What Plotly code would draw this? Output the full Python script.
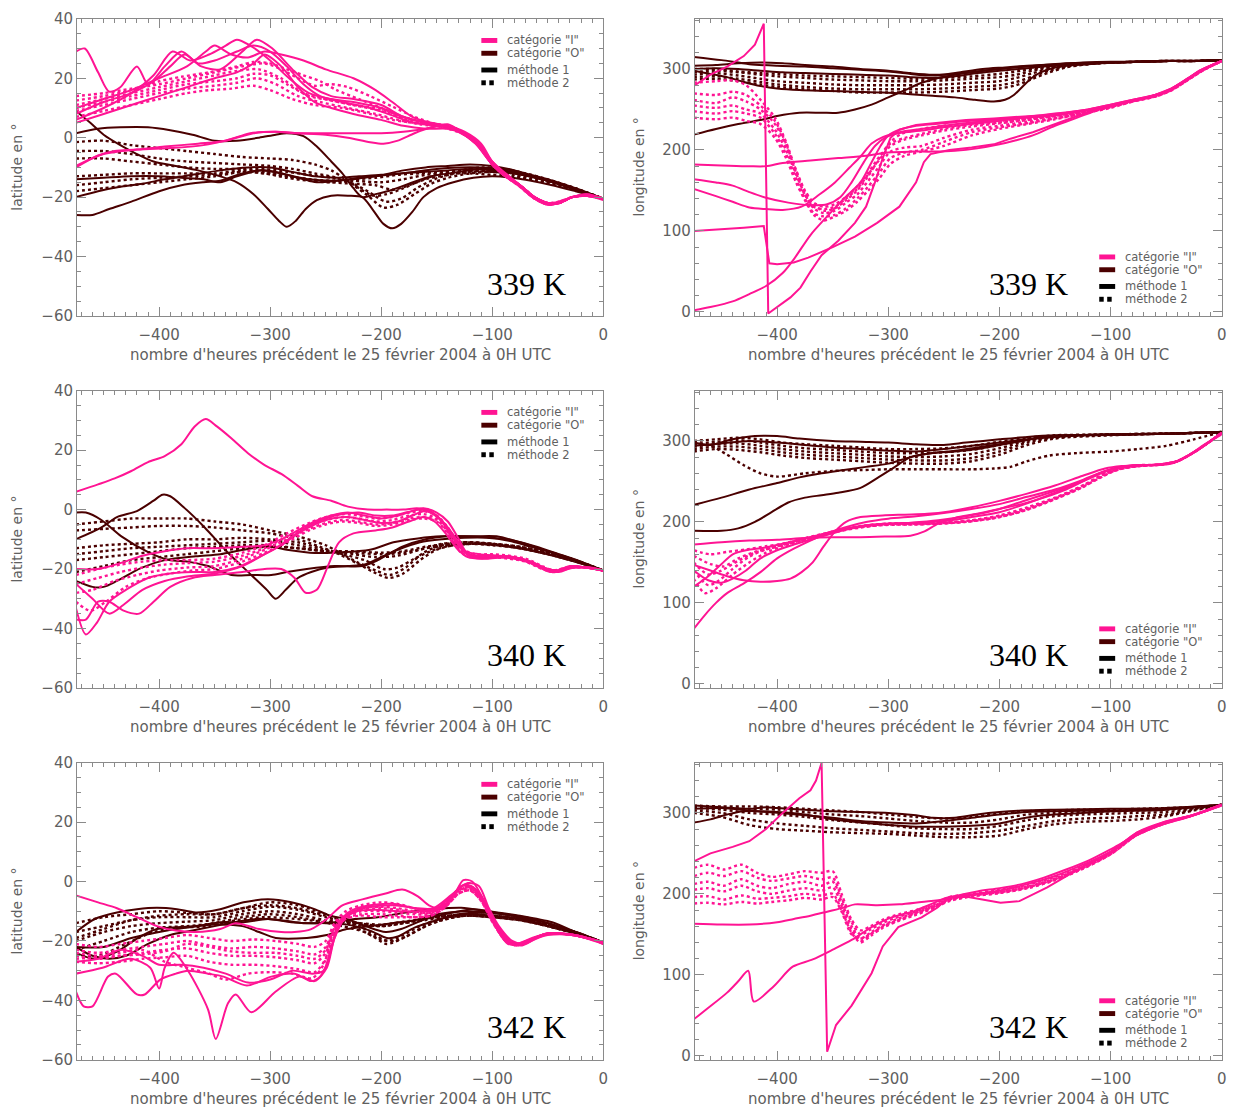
import plotly.graph_objects as go

# ---------------- data ----------------
HOURS_TICKS = [-400, -300, -200, -100, 0]
LAT_TICKS = [-60, -40, -20, 0, 20, 40]
LON_TICKS = [0, 100, 200, 300]
TEMPS = ["339 K", "340 K", "342 K"]
LEGEND_TEXT = ['catégorie "I"', 'catégorie "O"', "méthode 1", "méthode 2"]
X_TITLE = "nombre d'heures précédent le 25 février 2004 à 0H UTC"

# ===== 339 K latitude =====
lat339_I_m1 = [
    [(-475,29),(-467,30),(-455,22),(-445,15.5),(-435,17),(-420,24),(-410,18),(-395,24),(-380,29),(-365,25),(-350,26),(-330,29),(-315,31),(-300,29),(-285,24),(-270,18),(-255,14),(-235,12),(-210,10),(-190,7.5),(-170,5),(-150,4),(-135,3),(-125,1),(-112,-3),(-100,-9),(-88,-13),(-75,-16),(-62,-20),(-50,-22.5),(-40,-22),(-28,-20),(-15,-19.5),(0,-20.5)],
    [(-475,5),(-450,8),(-425,11),(-400,14),(-375,17),(-350,20),(-330,22),(-315,25),(-305,28),(-290,24),(-275,17),(-260,12),(-245,10),(-225,8),(-200,6),(-180,4),(-160,3),(-140,3),(-125,1.5),(-112,-2),(-100,-8),(-88,-12.5),(-75,-16),(-62,-20),(-50,-22),(-40,-21.5),(-28,-20),(-15,-19.5),(0,-20.5)],
    [(-475,8),(-450,12),(-425,15),(-405,19),(-390,24),(-377,28),(-362,24),(-345,23),(-325,29),(-312,33),(-298,30),(-280,23),(-262,17),(-245,14),(-225,13),(-200,11),(-180,7),(-160,5),(-140,3.5),(-125,1.5),(-110,-3),(-100,-8.5),(-88,-13),(-75,-16.5),(-62,-20.5),(-50,-22.5),(-40,-22),(-28,-20),(-15,-19.5),(0,-21)],
    [(-475,6),(-450,10),(-425,15),(-405,21),(-388,29),(-372,26),(-355,28),(-340,31),(-330,33),(-318,31),(-300,26),(-283,20),(-265,15),(-245,13),(-225,12),(-200,10),(-180,7),(-160,5),(-140,3.5),(-125,1),(-112,-3),(-100,-9),(-88,-13),(-75,-16),(-62,-20),(-50,-22),(-40,-22),(-28,-20),(-15,-19),(0,-20.5)],
    [(-475,10),(-450,13),(-425,16),(-400,20),(-375,24),(-358,29),(-350,31),(-335,28),(-320,27),(-305,29),(-290,28),(-270,26),(-250,23),(-225,20),(-205,16),(-190,12),(-172,7),(-155,5),(-140,4),(-125,2),(-110,-2),(-100,-8),(-88,-12),(-75,-16),(-62,-20),(-50,-22),(-40,-22),(-28,-20),(-15,-19),(0,-20.5)],
    [(-475,-10),(-455,-6),(-440,-4.5),(-420,-4),(-395,-3),(-365,-2),(-340,-1),(-318,1.5),(-295,2),(-275,1.5),(-250,1.5),(-225,1.5),(-200,1.5),(-180,2),(-160,3),(-145,4),(-130,2),(-115,-2),(-100,-9),(-88,-13),(-75,-16.5),(-62,-20.5),(-50,-22.5),(-40,-22),(-28,-20),(-15,-19.5),(0,-20.5)],
    [(-475,-9.5),(-450,-5.5),(-420,-4),(-390,-3.5),(-360,-2.5),(-335,-0.5),(-315,1.5),(-295,2),(-275,1.5),(-250,1),(-230,0),(-210,-1.5),(-198,-2),(-185,-1),(-170,1.5),(-155,3.5),(-140,4.5),(-128,2),(-115,-2),(-100,-9),(-88,-13),(-75,-16),(-62,-20),(-50,-22),(-40,-22),(-28,-20),(-15,-19.5),(0,-20.5)],
]
lat339_I_m2 = [
    [(-475,14),(-450,15),(-425,16.5),(-400,18),(-375,20),(-350,22),(-325,24),(-305,25),(-290,23),(-275,20),(-260,17.5),(-245,18),(-230,17),(-210,14),(-190,10.5),(-170,7),(-150,4.5),(-135,3.5),(-125,1.5),(-110,-3),(-100,-8.5),(-88,-12.5),(-75,-16),(-62,-20),(-50,-22),(-40,-22),(-28,-20),(-15,-19.5),(0,-20.5)],
    [(-475,11),(-450,13),(-425,15),(-400,17),(-375,19),(-350,21),(-330,22.5),(-310,23),(-290,20),(-270,15),(-250,13),(-225,11),(-200,9),(-180,6.5),(-160,5),(-140,3.5),(-125,1),(-110,-3.5),(-100,-9),(-88,-13),(-75,-16.5),(-62,-20.5),(-50,-22.5),(-40,-22),(-28,-20),(-15,-19.5),(0,-20.5)],
    [(-475,9),(-450,11),(-425,13),(-400,15),(-375,16.5),(-350,17.5),(-330,18.5),(-312,20),(-295,18),(-275,14),(-255,12),(-230,10),(-205,8),(-185,6),(-165,4.5),(-145,3.5),(-125,1),(-110,-3),(-100,-9),(-88,-13),(-75,-16),(-62,-20),(-50,-22),(-40,-22),(-28,-20),(-15,-19.5),(0,-20.5)],
    [(-475,7),(-450,9),(-425,11),(-400,13),(-375,15),(-355,16),(-335,16.5),(-315,17.5),(-300,16),(-280,13),(-260,11),(-235,10),(-210,8),(-190,6),(-170,5),(-150,4),(-130,2),(-115,-1.5),(-100,-8.5),(-88,-12.5),(-75,-16),(-62,-20),(-50,-22),(-40,-21.5),(-28,-20),(-15,-19.5),(0,-20.5)],
    [(-475,12.5),(-450,14),(-425,16),(-400,19),(-380,20.5),(-355,22),(-330,24),(-315,25.5),(-300,25),(-285,23),(-270,21),(-255,19),(-240,16),(-220,13),(-200,10),(-180,7),(-160,5),(-140,4),(-125,1.5),(-110,-3),(-100,-9),(-88,-13),(-75,-16),(-62,-20),(-50,-22),(-40,-22),(-28,-20),(-15,-19.5),(0,-20.5)],
    [(-475,10),(-450,12),(-425,14),(-400,16),(-375,18),(-350,19),(-330,20),(-315,21.5),(-300,21),(-285,18),(-265,14),(-245,12.5),(-225,11),(-200,9.5),(-180,7),(-160,5),(-140,3.5),(-125,1),(-110,-3),(-100,-8.5),(-88,-12.5),(-75,-16),(-62,-20),(-50,-22),(-40,-22),(-28,-20),(-15,-19.5),(0,-20.5)],
]
lat339_O_m1 = [
    [(-475,9),(-462,5),(-450,1),(-435,-2.5),(-420,-5.5),(-405,-8),(-385,-9.5),(-365,-11),(-345,-13),(-330,-15),(-315,-19),(-302,-24),(-292,-28),(-285,-30),(-277,-28),(-268,-24),(-258,-21),(-245,-19.5),(-230,-19.5),(-217,-20),(-208,-24),(-198,-29),(-190,-30.5),(-182,-29),(-172,-25),(-162,-20),(-150,-17),(-135,-15),(-117,-13.5),(-100,-13),(-82,-13.5),(-65,-14.5),(-46,-16),(-25,-18),(0,-20.5)],
    [(-475,1.5),(-455,3),(-435,3.5),(-410,3.5),(-390,2.5),(-370,1),(-350,-1),(-330,-1),(-310,0),(-295,1),(-285,1.5),(-270,0.5),(-258,-3),(-245,-8),(-235,-12),(-225,-17),(-217,-20),(-205,-19),(-190,-17.5),(-175,-15.5),(-155,-13),(-130,-11.5),(-110,-10.5),(-90,-11),(-70,-12.5),(-50,-14.5),(-25,-17.5),(0,-20.5)],
    [(-475,-20),(-455,-18),(-435,-16.5),(-415,-15.5),(-395,-14),(-370,-12.5),(-345,-11),(-320,-10),(-300,-10),(-280,-11.5),(-260,-13),(-240,-13.5),(-220,-13),(-200,-12.5),(-180,-11),(-160,-10),(-140,-9.5),(-120,-9),(-100,-9.5),(-80,-11),(-60,-13.5),(-40,-15.5),(-20,-18),(0,-20.5)],
    [(-475,-26),(-460,-26),(-445,-24),(-425,-21.5),(-400,-18),(-380,-16),(-360,-15),(-345,-14.5),(-325,-12),(-305,-11),(-285,-12.5),(-265,-14),(-245,-14.5),(-225,-14),(-205,-13),(-180,-12),(-160,-11.5),(-140,-11),(-120,-10.5),(-100,-11),(-80,-12),(-60,-13.5),(-40,-15.5),(-20,-18),(0,-20.5)],
    [(-475,-14),(-450,-13.5),(-425,-13),(-400,-13),(-380,-13.5),(-360,-14),(-345,-15),(-330,-13),(-310,-11),(-295,-11.5),(-275,-13.5),(-258,-15),(-240,-14.5),(-220,-13.5),(-195,-12.5),(-170,-11.5),(-150,-10.5),(-130,-10),(-110,-10),(-90,-10.5),(-70,-12),(-50,-14),(-25,-17),(0,-20.5)],
]
lat339_O_m2 = [
    [(-475,-1.5),(-450,-1),(-425,-2.5),(-400,-3.5),(-375,-4.5),(-350,-5.5),(-325,-6.5),(-300,-7),(-280,-7.5),(-260,-9),(-245,-11),(-232,-14),(-220,-17),(-207,-19.5),(-195,-19),(-180,-17),(-165,-14.5),(-150,-12.5),(-130,-11),(-110,-10),(-90,-10.5),(-70,-12),(-50,-14),(-25,-17),(0,-20.5)],
    [(-475,-4.5),(-450,-4.5),(-425,-5.5),(-400,-7),(-375,-8),(-350,-8.5),(-325,-9),(-300,-9.5),(-280,-10.5),(-260,-12),(-240,-13.5),(-225,-15.5),(-210,-18.5),(-196,-21.5),(-182,-20.5),(-168,-17),(-152,-14),(-135,-12),(-115,-11),(-95,-11),(-75,-12),(-55,-14),(-30,-16.5),(0,-20.5)],
    [(-475,-7),(-450,-7),(-425,-8),(-400,-9),(-375,-10),(-350,-10.5),(-325,-10.5),(-305,-10.5),(-285,-11.5),(-265,-12.5),(-245,-13.5),(-228,-15.5),(-212,-19.5),(-198,-23.5),(-185,-22.5),(-170,-19),(-155,-15.5),(-140,-13.5),(-120,-12),(-100,-11.5),(-80,-12),(-60,-13.5),(-35,-16),(0,-20.5)],
    [(-475,-13),(-450,-12.5),(-425,-12),(-400,-12),(-375,-12),(-350,-12),(-325,-11),(-305,-11.5),(-285,-13),(-265,-14),(-245,-15),(-225,-15.5),(-205,-16),(-190,-17.5),(-175,-16),(-160,-14),(-140,-12.5),(-120,-11.5),(-100,-11.5),(-80,-12),(-60,-13.5),(-35,-16),(0,-20.5)],
    [(-475,-16),(-450,-15),(-425,-14),(-400,-13.5),(-375,-13),(-350,-12.5),(-325,-11.5),(-305,-12),(-285,-13.5),(-265,-14.5),(-245,-15),(-225,-14),(-205,-13.5),(-185,-12.5),(-165,-12),(-145,-11.5),(-125,-11),(-100,-11.5),(-80,-12.5),(-60,-14),(-35,-16.5),(0,-20.5)],
    [(-475,-18),(-450,-17),(-425,-16),(-400,-15),(-375,-14),(-350,-13),(-325,-11.5),(-305,-12),(-285,-13),(-265,-14),(-245,-14.5),(-225,-14.5),(-200,-15),(-180,-14),(-160,-12.5),(-140,-12),(-120,-12),(-100,-12.5),(-80,-13),(-60,-14.5),(-35,-16.5),(0,-20.5)],
]

# ===== 339 K longitude =====
lon339_I_m1 = [
    [(-475,279),(-460,293),(-445,303),(-430,316),(-420,330),(-412,356),(-408,-2),(-398,8),(-388,18),(-379,30),(-370,50),(-360,70),(-345,88),(-330,110),(-320,130),(-312,160),(-305,190),(-298,215),(-290,225),(-275,231),(-255,234),(-230,237),(-205,239),(-180,241),(-160,243),(-140,246),(-120,250),(-100,256),(-80,262),(-60,268),(-45,276),(-30,289),(-15,301),(0,310)],
    [(-475,100),(-450,102),(-430,104),(-412,106),(-407,60),(-400,59),(-385,61),(-372,67),(-350,80),(-330,93),(-310,110),(-290,130),(-275,160),(-268,185),(-262,195),(-245,200),(-225,203),(-205,207),(-190,214),(-170,222),(-150,232),(-130,242),(-110,251),(-90,258),(-70,264),(-50,272),(-35,284),(-20,298),(0,310)],
    [(-475,2),(-460,6),(-440,13),(-425,22),(-410,32),(-395,48),(-385,65),(-370,95),(-355,118),(-340,140),(-325,160),(-315,185),(-307,205),(-300,218),(-290,225),(-275,230),(-250,233),(-225,236),(-200,238),(-175,240),(-150,243),(-130,247),(-110,252),(-90,258),(-70,264),(-50,272),(-35,284),(-20,298),(0,310)],
    [(-475,182),(-450,181),(-425,180),(-410,180),(-395,184),(-370,187),(-345,190),(-320,193),(-300,197),(-280,198),(-260,198),(-240,199),(-220,202),(-200,207),(-185,212),(-170,218),(-150,230),(-130,240),(-110,250),(-90,257),(-70,264),(-50,271),(-35,283),(-20,297),(0,310)],
    [(-475,164),(-455,160),(-440,156),(-425,148),(-410,141),(-390,135),(-370,132),(-355,133),(-343,142),(-333,160),(-322,185),(-312,205),(-302,216),(-290,221),(-270,224),(-250,228),(-225,232),(-200,236),(-175,240),(-150,243),(-125,248),(-100,255),(-80,261),(-60,267),(-45,275),(-30,288),(-15,300),(0,310)],
    [(-475,152),(-455,143),(-440,136),(-425,129),(-410,127),(-395,126),(-378,130),(-362,145),(-348,160),(-335,178),(-325,192),(-315,208),(-305,216),(-290,222),(-270,226),(-250,230),(-225,234),(-200,237),(-175,241),(-150,245),(-125,249),(-100,256),(-80,262),(-60,268),(-45,276),(-30,289),(-15,301),(0,310)],
]
lon339_I_m2 = [
    [(-475,283),(-455,285),(-440,286),(-428,280),(-415,262),(-402,240),(-392,210),(-383,175),(-375,148),(-367,132),(-358,125),(-348,128),(-338,138),(-328,150),(-318,168),(-308,190),(-298,210),(-288,220),(-270,226),(-250,230),(-225,233),(-200,236),(-175,239),(-150,243),(-125,248),(-100,255),(-80,261),(-60,267),(-45,275),(-30,288),(-15,300),(0,310)],
    [(-475,262),(-455,258),(-440,265),(-428,260),(-415,250),(-402,232),(-392,205),(-383,175),(-375,150),(-367,135),(-358,130),(-348,133),(-338,142),(-328,155),(-318,172),(-308,192),(-298,208),(-285,215),(-270,220),(-250,226),(-225,231),(-200,234),(-175,238),(-150,242),(-125,247),(-100,254),(-80,261),(-60,267),(-45,275),(-30,288),(-15,300),(0,310)],
    [(-475,255),(-455,252),(-440,255),(-428,250),(-415,245),(-402,225),(-392,200),(-383,170),(-375,145),(-367,128),(-358,122),(-348,125),(-338,135),(-328,145),(-318,162),(-308,180),(-298,198),(-285,203),(-270,205),(-250,215),(-225,225),(-200,230),(-175,235),(-150,240),(-125,246),(-100,253),(-80,260),(-60,266),(-45,274),(-30,287),(-15,300),(0,310)],
    [(-475,248),(-455,245),(-440,248),(-428,245),(-415,240),(-402,220),(-392,195),(-383,165),(-375,140),(-367,122),(-358,118),(-348,120),(-338,128),(-328,140),(-318,155),(-308,172),(-298,190),(-285,197),(-270,200),(-250,210),(-225,222),(-200,228),(-175,233),(-150,239),(-125,245),(-100,253),(-80,260),(-60,266),(-45,274),(-30,287),(-15,300),(0,310)],
    [(-475,240),(-455,238),(-440,240),(-428,236),(-415,232),(-402,215),(-392,190),(-383,160),(-375,138),(-367,120),(-358,113),(-348,118),(-338,125),(-328,136),(-318,150),(-308,165),(-298,183),(-285,193),(-270,198),(-250,205),(-225,218),(-200,226),(-175,232),(-150,238),(-125,245),(-100,252),(-80,260),(-60,266),(-45,274),(-30,287),(-15,300),(0,310)],
    [(-475,270),(-455,268),(-440,272),(-428,268),(-415,255),(-402,236),(-392,208),(-383,172),(-375,145),(-367,130),(-358,127),(-348,130),(-338,140),(-328,152),(-318,170),(-308,188),(-298,205),(-285,213),(-270,218),(-250,224),(-225,229),(-200,233),(-175,237),(-150,242),(-125,247),(-100,254),(-80,261),(-60,267),(-45,275),(-30,288),(-15,300),(0,310)],
]
lon339_O_m1 = [
    [(-475,315),(-450,311),(-425,306),(-400,304),(-375,303),(-350,301),(-325,299),(-300,297),(-280,294),(-265,292),(-250,293),(-235,296),(-215,300),(-195,302),(-175,304),(-150,306),(-125,308),(-100,309),(-75,309),(-50,310),(-25,310),(0,311)],
    [(-475,304),(-455,305),(-435,307),(-415,308),(-395,307),(-375,305),(-350,303),(-325,300),(-300,298),(-280,295),(-260,293),(-240,294),(-220,297),(-200,300),(-180,303),(-160,305),(-140,307),(-110,308),(-80,309),(-50,310),(-25,310),(0,311)],
    [(-475,298),(-460,294),(-445,290),(-430,284),(-415,279),(-400,276),(-380,274),(-355,273),(-330,272),(-305,271),(-280,269),(-260,267),(-240,265),(-222,262),(-205,260),(-195,262),(-187,268),(-178,280),(-168,292),(-155,300),(-140,304),(-120,306),(-100,308),(-75,309),(-50,310),(-25,310),(0,311)],
    [(-475,219),(-455,226),(-435,232),(-415,237),(-400,242),(-380,246),(-360,246),(-345,246),(-330,250),(-315,256),(-300,265),(-285,274),(-270,283),(-255,289),(-240,293),(-220,297),(-200,300),(-175,303),(-150,305),(-125,307),(-100,308),(-75,309),(-50,310),(-25,310),(0,311)],
    [(-475,300),(-455,301),(-435,300),(-415,298),(-395,296),(-375,295),(-350,294),(-325,293),(-300,292),(-280,290),(-260,289),(-240,291),(-220,295),(-200,298),(-175,301),(-150,304),(-125,306),(-100,308),(-75,309),(-50,310),(-25,310),(0,311)],
]
lon339_O_m2 = [
    [(-475,296),(-455,298),(-435,296),(-415,293),(-400,291),(-375,289),(-350,287),(-325,286),(-300,285),(-275,285),(-250,286),(-225,288),(-200,290),(-185,293),(-170,298),(-155,302),(-140,305),(-120,307),(-100,308),(-75,309),(-50,310),(-25,310),(0,311)],
    [(-475,293),(-455,295),(-435,292),(-415,288),(-400,285),(-375,283),(-350,281),(-325,280),(-300,280),(-275,280),(-250,281),(-225,283),(-200,285),(-185,289),(-170,295),(-155,300),(-140,304),(-120,307),(-100,308),(-75,309),(-50,310),(-25,310),(0,311)],
    [(-475,290),(-455,291),(-435,288),(-415,284),(-400,281),(-375,278),(-350,276),(-325,275),(-300,275),(-275,275),(-250,276),(-225,278),(-200,280),(-185,284),(-170,291),(-155,298),(-140,303),(-120,306),(-100,308),(-75,309),(-50,310),(-25,310),(0,311)],
    [(-475,300),(-455,300),(-435,297),(-415,295),(-400,294),(-375,292),(-350,291),(-325,290),(-300,289),(-275,288),(-250,289),(-225,291),(-200,294),(-180,298),(-160,302),(-140,305),(-120,307),(-100,308),(-75,309),(-50,310),(-25,310),(0,311)],
    [(-475,287),(-455,288),(-435,285),(-415,281),(-400,278),(-375,275),(-350,273),(-325,271),(-300,271),(-275,271),(-250,272),(-225,274),(-200,276),(-185,280),(-170,288),(-155,296),(-140,302),(-120,306),(-100,308),(-75,309),(-50,310),(-25,310),(0,311)],
]

# ===== 340 K latitude =====
lat340_I_m1 = [
    [(-475,6),(-455,8.5),(-440,10.5),(-425,13),(-410,16),(-395,18),(-380,22),(-368,28),(-358,30.5),(-348,28),(-335,24),(-320,19),(-305,15),(-290,12),(-275,8),(-262,4.5),(-245,3),(-230,1),(-212,0),(-195,0),(-180,0),(-168,0.5),(-158,0),(-150,-2),(-140,-6),(-132,-10),(-124,-14),(-112,-15),(-95,-15.5),(-80,-16),(-65,-17.5),(-50,-20),(-42,-20.5),(-30,-19),(-15,-19.5),(0,-20.5)],
    [(-475,-33),(-466,-42),(-456,-38),(-445,-31),(-430,-27),(-410,-23),(-390,-21.5),(-370,-21),(-350,-21),(-330,-19.5),(-310,-16),(-295,-13),(-280,-9),(-265,-5.5),(-250,-3),(-235,-1.5),(-220,-1),(-205,-2),(-190,-2),(-178,-1),(-165,0),(-155,-1),(-145,-4),(-135,-9),(-126,-14),(-115,-15.5),(-100,-15.5),(-80,-16),(-65,-17.5),(-50,-20),(-40,-20.5),(-28,-19),(-15,-19.5),(0,-20.5)],
    [(-475,-37),(-466,-37),(-455,-31),(-445,-31),(-432,-34),(-418,-35),(-405,-31),(-390,-26),(-370,-23),(-350,-22),(-325,-21),(-305,-20),(-290,-20),(-278,-23),(-268,-28),(-258,-27),(-248,-19),(-238,-11),(-225,-8),(-205,-7),(-190,-6),(-175,-4),(-162,-2.5),(-152,-4),(-142,-8),(-132,-13),(-122,-16),(-110,-16.5),(-95,-16),(-80,-16.5),(-65,-18),(-50,-20.5),(-40,-21),(-28,-19.5),(-15,-19.5),(0,-20.5)],
    [(-475,-20),(-455,-20),(-435,-18),(-415,-15.5),(-395,-14),(-375,-13),(-350,-13),(-325,-12.5),(-305,-12),(-290,-10),(-275,-7),(-260,-4),(-245,-2),(-230,-1),(-215,-2),(-200,-3),(-185,-2),(-172,-0.5),(-162,0.5),(-150,-1),(-140,-4),(-130,-10),(-122,-15),(-110,-16),(-95,-15.5),(-80,-16),(-65,-18),(-50,-20),(-40,-20.5),(-28,-19),(-15,-19.5),(0,-20.5)],
    [(-475,-25),(-460,-30),(-445,-35),(-432,-32),(-415,-27),(-395,-24),(-375,-22.5),(-350,-21.5),(-325,-19),(-305,-15),(-290,-12),(-275,-8),(-260,-5),(-245,-3),(-230,-2.5),(-215,-3.5),(-200,-4.5),(-185,-4),(-172,-2),(-160,-0.5),(-148,-3),(-138,-8),(-128,-13),(-118,-16),(-105,-16.5),(-90,-16),(-75,-16.5),(-60,-19),(-48,-21),(-38,-20.5),(-25,-19.5),(-12,-19.5),(0,-20.5)],
]
lat340_I_m2 = [
    [(-475,-22),(-455,-20),(-435,-18.5),(-415,-17.5),(-395,-17),(-375,-17),(-350,-16.5),(-325,-14.5),(-305,-12),(-285,-8),(-265,-4.5),(-250,-2.5),(-235,-1.5),(-220,-2),(-205,-3),(-190,-2.5),(-175,-1),(-162,-0.5),(-150,-2),(-140,-6),(-128,-13),(-115,-15),(-100,-15),(-85,-15.5),(-70,-16.5),(-55,-19),(-45,-20.5),(-32,-19.5),(-15,-19.5),(0,-20.5)],
    [(-475,-25),(-455,-23),(-435,-21),(-415,-19.5),(-395,-18.5),(-375,-18),(-350,-17.5),(-325,-15.5),(-305,-13),(-285,-9),(-265,-5.5),(-250,-3.5),(-235,-2.5),(-220,-3),(-205,-4),(-190,-3.5),(-175,-2),(-162,-1.5),(-150,-3),(-140,-7),(-128,-13.5),(-115,-15.5),(-100,-15.5),(-85,-16),(-70,-17),(-55,-19.5),(-45,-20.5),(-32,-19.5),(-15,-19.5),(0,-20.5)],
    [(-475,-28),(-460,-27),(-440,-24),(-420,-22),(-400,-20.5),(-375,-19.5),(-350,-19),(-325,-16.5),(-305,-13.5),(-285,-10),(-265,-6.5),(-250,-4.5),(-235,-3.5),(-220,-4),(-205,-5),(-190,-4.5),(-175,-3),(-162,-2.5),(-150,-3.5),(-140,-7.5),(-128,-14),(-115,-16),(-100,-16),(-85,-16),(-70,-17),(-55,-19.5),(-45,-21),(-32,-19.5),(-15,-19.5),(0,-20.5)],
    [(-475,-31),(-462,-34),(-448,-31),(-430,-26),(-410,-23),(-390,-21.5),(-370,-20.5),(-350,-20),(-325,-17.5),(-305,-14.5),(-285,-11),(-265,-7),(-250,-5),(-235,-4),(-220,-4.5),(-205,-5.5),(-190,-5),(-175,-3.5),(-162,-3),(-150,-4),(-140,-8),(-128,-14.5),(-115,-16),(-100,-16),(-85,-16.5),(-70,-17.5),(-55,-20),(-45,-21),(-32,-19.5),(-15,-19.5),(0,-20.5)],
]
lat340_O_m1 = [
    [(-475,-1),(-466,-1),(-452,-3.5),(-434,-9),(-409,-14.5),(-391,-17),(-374,-17.5),(-356,-19),(-335,-22),(-317,-22),(-299,-22),(-285,-21),(-267,-20),(-242,-19),(-217,-19),(-203,-17),(-181,-12.5),(-160,-10),(-142,-9),(-117,-9),(-96,-9),(-75,-11),(-46,-14.5),(-25,-17),(0,-20.5)],
    [(-475,-10),(-452,-6),(-438,-2.5),(-420,-0.5),(-405,3),(-397,5),(-390,4.5),(-377,0.5),(-359,-6),(-338,-14.5),(-317,-22),(-303,-27),(-295,-30),(-286,-27),(-275,-23),(-263,-21),(-248,-19.5),(-230,-19),(-215,-18.5),(-200,-16),(-185,-13.5),(-165,-11),(-145,-10),(-125,-9.5),(-105,-9.5),(-85,-10.5),(-65,-12.5),(-45,-14.5),(-25,-17),(0,-20.5)],
    [(-475,-24),(-460,-26),(-450,-26),(-438,-24),(-416,-19.6),(-395,-17),(-367,-15.7),(-345,-15),(-324,-13.5),(-302,-12.4),(-285,-13.5),(-260,-14.6),(-239,-14.4),(-210,-13.5),(-189,-11),(-167,-9.7),(-146,-9),(-125,-9),(-100,-9.5),(-80,-10.5),(-60,-12.5),(-40,-15),(-20,-17.5),(0,-20.5)],
]
lat340_O_m2 = [
    [(-475,-5),(-450,-4),(-425,-3),(-400,-3),(-375,-3),(-350,-4),(-325,-5),(-300,-7),(-275,-9),(-250,-12),(-235,-15),(-220,-18),(-205,-20.5),(-192,-22),(-178,-19.5),(-162,-14.5),(-145,-12),(-125,-11),(-100,-11.5),(-75,-13),(-50,-15),(-25,-17.5),(0,-20.5)],
    [(-475,-7),(-450,-6.5),(-425,-6),(-400,-5.5),(-375,-5.5),(-350,-6),(-325,-7),(-300,-8),(-275,-10),(-255,-12.5),(-238,-15),(-222,-18),(-207,-21),(-193,-23),(-180,-21.5),(-165,-17),(-150,-13.5),(-135,-12),(-115,-11.5),(-95,-12),(-75,-13),(-50,-15),(-25,-17.5),(0,-20.5)],
    [(-475,-13),(-450,-12),(-425,-11.5),(-400,-11),(-375,-10),(-350,-10),(-325,-9.5),(-300,-10),(-275,-11),(-255,-13),(-235,-15),(-215,-17),(-198,-20),(-185,-19.5),(-170,-16.5),(-152,-13.5),(-135,-12),(-115,-11.5),(-95,-12),(-75,-13),(-50,-15),(-25,-17.5),(0,-20.5)],
    [(-475,-15),(-450,-14),(-425,-13),(-400,-12.5),(-375,-12),(-350,-11.5),(-325,-11),(-300,-10.5),(-275,-12),(-250,-14),(-225,-15),(-205,-16),(-185,-15.5),(-165,-13.5),(-145,-11.5),(-125,-11),(-100,-11.5),(-75,-12.5),(-50,-14.5),(-25,-17),(0,-20.5)],
    [(-475,-17),(-450,-16),(-425,-15),(-400,-14),(-375,-13),(-350,-12.5),(-325,-12),(-300,-12),(-275,-13),(-250,-14),(-225,-14),(-200,-14.5),(-180,-14),(-160,-12.5),(-140,-11.5),(-120,-11),(-100,-11.5),(-75,-12.5),(-50,-14.5),(-25,-17),(0,-20.5)],
    [(-475,-21),(-450,-19),(-425,-17),(-400,-16),(-375,-15),(-350,-14),(-325,-13),(-300,-12.5),(-275,-13),(-250,-14),(-225,-14.5),(-200,-15),(-180,-14.5),(-160,-13),(-140,-12),(-120,-11.5),(-100,-12),(-75,-13),(-50,-15),(-25,-17.5),(0,-20.5)],
]

# ===== 340 K longitude =====
lon340_I_m1 = [
    [(-475,172),(-450,175),(-425,177),(-400,178),(-375,180),(-350,181),(-325,181),(-300,182),(-280,183),(-268,188),(-255,198),(-240,205),(-220,210),(-200,216),(-180,222),(-160,230),(-140,240),(-125,250),(-110,260),(-95,267),(-80,270),(-60,270),(-45,272),(-30,282),(-15,296),(0,308)],
    [(-475,68),(-465,85),(-455,100),(-445,112),(-430,124),(-415,138),(-400,155),(-385,167),(-370,177),(-355,186),(-340,193),(-320,200),(-300,204),(-275,207),(-250,211),(-225,216),(-200,222),(-175,231),(-150,240),(-125,252),(-105,263),(-90,268),(-75,270),(-55,271),(-40,275),(-25,286),(-12,298),(0,310)],
    [(-475,147),(-460,140),(-445,133),(-430,128),(-415,126),(-400,127),(-388,130),(-378,138),(-368,150),(-358,170),(-348,188),(-338,200),(-325,206),(-305,208),(-285,209),(-265,210),(-245,213),(-225,218),(-200,226),(-175,235),(-150,245),(-125,257),(-105,266),(-90,269),(-75,270),(-55,271),(-40,275),(-25,286),(-12,298),(0,310)],
    [(-475,120),(-462,133),(-450,148),(-440,160),(-428,165),(-412,168),(-398,172),(-380,178),(-362,184),(-345,190),(-325,195),(-300,198),(-275,199),(-250,201),(-225,206),(-200,212),(-175,223),(-150,236),(-125,250),(-105,262),(-90,268),(-75,270),(-55,271),(-40,275),(-25,286),(-12,298),(0,310)],
    [(-475,140),(-462,128),(-450,125),(-440,130),(-428,140),(-415,155),(-400,165),(-385,172),(-370,178),(-350,186),(-330,193),(-305,197),(-280,199),(-255,202),(-230,207),(-205,214),(-180,225),(-155,236),(-130,248),(-110,260),(-92,267),(-75,270),(-55,271),(-40,275),(-25,286),(-12,298),(0,310)],
]
lon340_I_m2 = [
    [(-475,165),(-460,160),(-445,163),(-428,166),(-410,170),(-395,173),(-375,180),(-350,188),(-325,195),(-300,198),(-275,198),(-250,199),(-225,202),(-200,208),(-175,218),(-150,230),(-125,245),(-108,258),(-92,266),(-75,270),(-55,271),(-40,275),(-25,286),(-12,298),(0,310)],
    [(-475,150),(-462,135),(-450,140),(-435,152),(-420,162),(-405,168),(-390,174),(-370,180),(-350,187),(-325,193),(-300,197),(-275,197),(-250,198),(-225,201),(-200,206),(-175,215),(-150,228),(-125,243),(-108,256),(-92,265),(-75,269),(-55,271),(-40,275),(-25,286),(-12,298),(0,310)],
    [(-475,130),(-465,112),(-455,118),(-440,135),(-425,150),(-410,162),(-395,170),(-375,178),(-355,186),(-330,193),(-305,196),(-280,197),(-255,198),(-230,200),(-205,205),(-180,213),(-155,226),(-130,240),(-110,254),(-95,264),(-75,269),(-55,271),(-40,275),(-25,286),(-12,298),(0,310)],
    [(-475,158),(-460,148),(-448,145),(-435,155),(-420,163),(-405,168),(-388,175),(-368,181),(-345,189),(-320,195),(-295,198),(-270,198),(-245,199),(-220,203),(-195,209),(-170,219),(-145,232),(-122,247),(-105,259),(-90,266),(-75,269),(-55,271),(-40,275),(-25,286),(-12,298),(0,310)],
    [(-475,140),(-462,122),(-452,128),(-440,142),(-425,157),(-410,166),(-393,172),(-373,179),(-350,187),(-325,194),(-300,197),(-275,197),(-250,199),(-225,201),(-200,206),(-175,216),(-150,229),(-125,244),(-108,257),(-92,266),(-75,269),(-55,271),(-40,275),(-25,286),(-12,298),(0,310)],
]
lon340_O_m1 = [
    [(-475,298),(-460,295),(-440,302),(-420,306),(-400,306),(-380,303),(-350,300),(-325,299),(-300,298),(-275,296),(-250,295),(-230,298),(-200,302),(-175,305),(-150,307),(-100,308),(-50,309),(0,311)],
    [(-475,221),(-450,230),(-425,240),(-400,248),(-380,255),(-360,260),(-340,264),(-320,268),(-300,272),(-280,280),(-260,285),(-240,288),(-220,292),(-200,296),(-180,300),(-160,305),(-130,307),(-100,308),(-50,309),(0,311)],
    [(-475,189),(-450,189),(-435,192),(-420,200),(-405,212),(-390,224),(-375,230),(-360,233),(-345,236),(-325,242),(-310,254),(-295,267),(-280,280),(-260,285),(-240,287),(-220,290),(-200,295),(-180,300),(-160,305),(-140,307),(-100,308),(-50,309),(0,311)],
    [(-475,294),(-450,297),(-425,300),(-400,298),(-375,295),(-350,292),(-325,290),(-300,288),(-275,287),(-250,290),(-225,294),(-200,298),(-175,302),(-150,305),(-120,307),(-80,308),(-40,309),(0,311)],
]
lon340_O_m2 = [
    [(-475,297),(-460,294),(-445,283),(-430,270),(-415,260),(-400,256),(-375,260),(-350,263),(-325,264),(-300,265),(-275,265),(-250,265),(-225,265),(-205,266),(-190,268),(-175,275),(-155,282),(-130,285),(-100,287),(-75,290),(-50,294),(-25,302),(0,311)],
    [(-475,300),(-455,302),(-435,304),(-415,302),(-395,298),(-375,296),(-350,294),(-325,292),(-300,290),(-275,290),(-250,291),(-225,294),(-200,299),(-175,304),(-150,307),(-100,308),(-50,309),(0,311)],
    [(-475,296),(-455,299),(-435,301),(-415,298),(-395,294),(-375,291),(-350,289),(-325,287),(-300,285),(-275,285),(-250,286),(-225,289),(-200,295),(-175,302),(-150,306),(-100,308),(-50,309),(0,311)],
    [(-475,293),(-455,296),(-435,297),(-415,294),(-395,290),(-375,287),(-350,285),(-325,283),(-300,281),(-275,280),(-250,281),(-225,284),(-200,291),(-175,300),(-150,305),(-100,308),(-50,309),(0,311)],
    [(-475,290),(-455,293),(-435,293),(-415,290),(-395,286),(-375,283),(-350,281),(-325,279),(-300,277),(-275,276),(-250,276),(-225,279),(-200,287),(-175,298),(-150,304),(-100,308),(-50,309),(0,311)],
    [(-475,287),(-455,290),(-435,289),(-415,286),(-395,282),(-375,279),(-350,277),(-325,275),(-300,273),(-275,272),(-250,272),(-225,275),(-200,283),(-175,295),(-150,303),(-100,307),(-50,309),(0,311)],
]

# ===== 342 K latitude =====
lat342_I_m1 = [
    [(-475,-4.7),(-455,-7),(-438,-9),(-420,-12),(-402,-15),(-385,-16.5),(-367,-17),(-345,-16),(-331,-14),(-310,-16),(-290,-17),(-278,-17),(-263,-16),(-249,-12.6),(-235,-8),(-217,-6),(-196,-4),(-181,-2.7),(-167,-5),(-157,-8),(-145,-9),(-135,-5),(-126,0.5),(-118,0),(-108,-6),(-97,-15),(-86,-21),(-78,-21),(-64,-19),(-50,-17.6),(-27,-18),(0,-21)],
    [(-475,-31),(-451,-29),(-426,-26),(-408,-29),(-400,-36),(-395,-29),(-387,-24),(-374,-30),(-356,-43),(-349,-53),(-338,-41),(-331,-38),(-317,-44),(-295,-37),(-274,-32),(-260,-33.5),(-249,-29),(-242,-19),(-231,-11.5),(-217,-9),(-189,-8),(-167,-9),(-153,-9),(-135,-4),(-122,-0.5),(-112,-1.5),(-103,-9),(-94,-15),(-82,-20),(-71,-21),(-60,-19),(-48,-17.5),(-27,-18),(0,-20.5)],
    [(-475,-37),(-468,-42),(-460,-42),(-446,-32),(-439,-31),(-420,-38),(-413,-38),(-399,-33),(-385,-31),(-374,-30),(-356,-31),(-342,-32),(-321,-35),(-299,-32),(-278,-31),(-263,-33.5),(-255,-32),(-249,-28),(-242,-19),(-235,-13),(-222,-10),(-205,-9.5),(-185,-10),(-165,-10),(-150,-9),(-137,-5),(-125,-1),(-115,-2.5),(-105,-8),(-95,-15),(-83,-20.5),(-73,-21.5),(-62,-19.5),(-50,-18),(-27,-18),(0,-20.5)],
    [(-475,-27),(-455,-26),(-435,-23),(-415,-25),(-400,-28),(-380,-28),(-360,-29),(-340,-31),(-320,-34),(-300,-33),(-280,-30),(-262,-31),(-252,-30),(-245,-22),(-238,-14),(-228,-10),(-210,-8),(-190,-7.5),(-170,-9),(-155,-10),(-140,-7),(-128,-1.5),(-118,-2),(-108,-7),(-97,-14),(-85,-20),(-75,-21),(-62,-19),(-50,-17.5),(-27,-18),(0,-20.5)],
]
lat342_I_m2 = [
    [(-475,-21),(-455,-22),(-435,-21),(-415,-20),(-395,-19),(-375,-18),(-355,-19),(-335,-20),(-315,-19.5),(-295,-20),(-275,-21),(-260,-22),(-250,-20),(-242,-14),(-232,-10),(-218,-8),(-200,-7),(-185,-7.5),(-170,-9),(-155,-10),(-142,-7),(-130,-2.5),(-120,-1.5),(-110,-5),(-100,-12),(-88,-19),(-78,-21),(-65,-19.5),(-50,-17.5),(-27,-18),(0,-20.5)],
    [(-475,-23),(-455,-24),(-435,-23),(-415,-22),(-395,-21),(-375,-20),(-355,-21.5),(-335,-22.5),(-315,-22),(-295,-22.5),(-275,-23.5),(-260,-24.5),(-250,-22),(-242,-15),(-232,-11),(-218,-9),(-200,-8.5),(-185,-9),(-170,-10),(-155,-10.5),(-142,-7.5),(-130,-3),(-120,-2),(-110,-5.5),(-100,-12.5),(-88,-19.5),(-78,-21),(-65,-19.5),(-50,-17.5),(-27,-18),(0,-20.5)],
    [(-475,-25),(-455,-26),(-435,-25),(-415,-24),(-395,-23),(-375,-22.5),(-355,-24),(-335,-25),(-315,-25),(-295,-25.5),(-275,-26.5),(-260,-27.5),(-250,-24),(-242,-16),(-232,-12),(-218,-10),(-200,-10),(-185,-10.5),(-170,-11),(-155,-11),(-142,-8),(-130,-3.5),(-120,-2.5),(-110,-6),(-100,-13),(-88,-20),(-78,-21.5),(-65,-19.5),(-50,-17.5),(-27,-18),(0,-20.5)],
    [(-475,-27),(-455,-27.5),(-435,-27),(-415,-26),(-395,-25.5),(-375,-25),(-355,-27),(-335,-28),(-315,-28),(-295,-28.5),(-275,-29.5),(-260,-30.5),(-250,-26),(-242,-17),(-232,-12.5),(-218,-11),(-200,-11),(-185,-11.5),(-170,-12),(-155,-11.5),(-142,-8.5),(-130,-4),(-120,-3),(-110,-6.5),(-100,-13.5),(-88,-20),(-78,-21.5),(-65,-19.5),(-50,-17.5),(-27,-18),(0,-20.5)],
    [(-475,-24),(-455,-25),(-435,-24),(-415,-23),(-395,-27),(-375,-29),(-355,-31),(-340,-33),(-320,-31),(-300,-30.5),(-280,-31),(-262,-32.5),(-252,-28),(-244,-18),(-234,-13),(-220,-11.5),(-200,-12),(-185,-12),(-170,-12),(-155,-11.5),(-142,-8.5),(-130,-4),(-120,-3),(-110,-6.5),(-100,-13.5),(-88,-20),(-78,-21.5),(-65,-19.5),(-50,-17.5),(-27,-18),(0,-20.5)],
    [(-475,-26),(-455,-25.5),(-435,-25),(-415,-24.5),(-395,-23.5),(-375,-21),(-355,-22),(-335,-23.5),(-315,-24),(-295,-24),(-275,-25),(-260,-26),(-250,-23),(-242,-15.5),(-232,-11.5),(-218,-9.5),(-200,-9),(-185,-9.5),(-170,-10.5),(-155,-10.5),(-142,-7.5),(-130,-3),(-120,-2),(-110,-5.5),(-100,-12.5),(-88,-19.5),(-78,-21),(-65,-19.5),(-50,-17.5),(-27,-18),(0,-20.5)],
]
lat342_O_m1 = [
    [(-475,-17),(-458,-12.6),(-438,-10.4),(-420,-9.3),(-402,-8.8),(-384,-9.3),(-367,-10.4),(-345,-9.3),(-324,-7),(-302,-6),(-281,-7),(-260,-9.3),(-246,-11.5),(-231,-12.6),(-214,-15),(-196,-17),(-182,-16),(-160,-12.6),(-135,-10.4),(-117,-9.3),(-96,-10.4),(-75,-11.5),(-46,-13.7),(-25,-17),(0,-21)],
    [(-475,-24),(-458,-26),(-438,-23.6),(-420,-19.2),(-402,-16),(-367,-15),(-345,-13.7),(-324,-13.7),(-302,-12.6),(-281,-13.7),(-260,-14),(-242,-13.7),(-224,-12.6),(-203,-12),(-178,-10.4),(-153,-9.3),(-128,-8.8),(-105,-10),(-80,-11.5),(-55,-13.5),(-30,-16.5),(0,-20.5)],
    [(-475,-22),(-450,-22),(-425,-19),(-400,-17),(-375,-15.5),(-350,-14.5),(-325,-15),(-310,-17),(-295,-19),(-267,-19),(-249,-18),(-231,-16),(-210,-15),(-190,-14),(-170,-13),(-150,-11),(-125,-10),(-100,-10.5),(-75,-12),(-50,-14),(-25,-17),(0,-20.5)],
    [(-475,-22),(-460,-25),(-445,-26),(-430,-25),(-410,-21),(-390,-18),(-370,-16.5),(-350,-15),(-330,-13.5),(-310,-12.5),(-290,-13),(-270,-14),(-250,-14),(-230,-14.5),(-210,-16.5),(-195,-19),(-185,-18.5),(-170,-15.5),(-150,-13),(-130,-11),(-110,-10.5),(-90,-11),(-70,-12),(-50,-14),(-25,-17),(0,-20.5)],
]
lat342_O_m2 = [
    [(-475,-14),(-450,-12),(-425,-11),(-400,-10),(-375,-10.5),(-350,-11),(-325,-9),(-300,-7),(-275,-8),(-250,-11),(-235,-13),(-220,-15),(-205,-18),(-195,-20),(-180,-18),(-165,-15),(-150,-13),(-125,-11),(-100,-11.5),(-75,-12.5),(-50,-15),(-25,-17.5),(0,-20.5)],
    [(-475,-17),(-450,-15),(-425,-13),(-400,-12),(-375,-12),(-350,-12),(-325,-10),(-300,-8.5),(-275,-9.5),(-250,-12),(-235,-13.5),(-220,-16),(-205,-19),(-195,-21),(-180,-19),(-165,-16),(-150,-13.5),(-125,-11.5),(-100,-12),(-75,-13),(-50,-15),(-25,-17.5),(0,-20.5)],
    [(-475,-20),(-450,-17),(-425,-15),(-400,-14),(-375,-13.5),(-350,-13),(-325,-11),(-300,-10),(-275,-11),(-250,-13),(-235,-13.5),(-220,-14),(-200,-14.5),(-180,-13.5),(-160,-12.5),(-140,-11.5),(-120,-11),(-100,-11.5),(-75,-12.5),(-50,-14.5),(-25,-17),(0,-20.5)],
    [(-475,-23),(-450,-20),(-425,-17),(-400,-15.5),(-375,-15),(-350,-14),(-325,-12),(-300,-11),(-275,-12),(-250,-13.5),(-235,-14),(-220,-14.5),(-200,-15),(-180,-14),(-160,-13),(-140,-12),(-120,-11.5),(-100,-12),(-75,-13),(-50,-15),(-25,-17.5),(0,-20.5)],
    [(-475,-25),(-455,-25),(-430,-21),(-405,-17),(-380,-15.5),(-355,-15),(-330,-13),(-305,-12),(-280,-12.5),(-255,-13.5),(-235,-15),(-215,-17),(-200,-19.5),(-188,-20),(-175,-18),(-160,-15),(-145,-13),(-125,-11.5),(-100,-12),(-75,-13),(-50,-15),(-25,-17.5),(0,-20.5)],
    [(-475,-19),(-450,-16),(-425,-13),(-400,-11.5),(-375,-11),(-350,-11),(-325,-9),(-300,-8),(-275,-9),(-250,-11.5),(-235,-13),(-220,-14),(-200,-15),(-180,-14),(-160,-12.5),(-140,-11.5),(-120,-11),(-100,-11.5),(-75,-12.5),(-50,-14.5),(-25,-17),(0,-20.5)],
]

# ===== 342 K longitude =====
lon342_I_m1 = [
    [(-475,240),(-460,250),(-440,258),(-425,265),(-410,280),(-395,300),(-380,318),(-370,328),(-365,340),(-360,362),(-355,5),(-347,38),(-333,62),(-315,102),(-305,135),(-291,159),(-270,171),(-256,183),(-245,196),(-228,196),(-199,189),(-182,191),(-157,208),(-122,236),(-100,252),(-76,276),(-51,289),(-26,297),(0,309)],
    [(-475,45),(-463,58),(-445,78),(-435,92),(-426,105),(-421,67),(-403,86),(-386,110),(-368,119),(-350,131),(-333,143),(-315,159),(-297,171),(-276,179),(-262,187),(-248,195),(-240,197),(-225,199),(-200,204),(-175,212),(-150,222),(-125,236),(-100,252),(-76,276),(-51,289),(-26,297),(0,309)],
    [(-475,163),(-450,162),(-425,162),(-400,165),(-385,169),(-370,173),(-355,178),(-340,183),(-330,187),(-310,186),(-290,187),(-270,190),(-250,193),(-240,197),(-220,203),(-200,207),(-180,212),(-160,220),(-140,230),(-120,241),(-100,255),(-80,270),(-55,285),(-30,295),(0,310)],
]
lon342_I_m2 = [
    [(-475,232),(-462,236),(-448,230),(-432,236),(-418,226),(-405,221),(-390,224),(-375,228),(-360,226),(-350,228),(-342,200),(-333,168),(-325,155),(-316,160),(-305,168),(-290,175),(-275,180),(-258,188),(-245,196),(-225,200),(-200,205),(-175,211),(-150,221),(-125,234),(-100,251),(-76,275),(-51,288),(-26,297),(0,310)],
    [(-475,222),(-462,226),(-448,222),(-432,228),(-418,220),(-405,216),(-390,219),(-375,222),(-360,218),(-350,220),(-342,195),(-333,165),(-325,150),(-316,156),(-305,164),(-290,172),(-275,178),(-258,186),(-245,194),(-225,199),(-200,203),(-175,209),(-150,219),(-125,233),(-100,250),(-76,274),(-51,288),(-26,297),(0,310)],
    [(-475,212),(-462,215),(-448,210),(-432,218),(-418,210),(-405,207),(-390,212),(-375,215),(-360,210),(-350,215),(-342,190),(-333,160),(-325,145),(-316,152),(-305,161),(-290,170),(-275,177),(-258,185),(-245,193),(-225,198),(-200,202),(-175,208),(-150,218),(-125,232),(-100,249),(-76,273),(-51,287),(-26,297),(0,310)],
    [(-475,205),(-462,207),(-448,203),(-432,210),(-418,203),(-405,200),(-390,204),(-375,207),(-360,204),(-350,208),(-342,185),(-333,155),(-325,142),(-316,150),(-305,159),(-290,168),(-275,175),(-258,184),(-245,192),(-225,197),(-200,201),(-175,207),(-150,217),(-125,231),(-100,249),(-76,273),(-51,287),(-26,297),(0,310)],
    [(-475,196),(-462,197),(-448,193),(-432,198),(-418,194),(-405,195),(-390,197),(-375,200),(-360,198),(-350,200),(-342,180),(-333,152),(-325,140),(-316,148),(-305,158),(-290,167),(-275,174),(-258,183),(-245,191),(-225,197),(-200,201),(-175,207),(-150,217),(-125,231),(-100,249),(-76,273),(-51,287),(-26,297),(0,310)],
    [(-475,188),(-462,189),(-448,187),(-432,190),(-418,188),(-405,190),(-390,192),(-375,195),(-360,193),(-350,196),(-342,178),(-333,150),(-325,145),(-316,150),(-305,160),(-290,168),(-275,176),(-258,184),(-245,192),(-225,198),(-200,202),(-175,208),(-150,218),(-125,232),(-100,250),(-76,274),(-51,288),(-26,297),(0,310)],
]
lon342_O_m1 = [
    [(-475,309),(-450,307),(-425,305),(-410,307),(-400,306),(-375,304),(-350,302),(-325,301),(-300,300),(-275,297),(-260,294),(-240,294),(-220,298),(-200,301),(-180,303),(-150,304),(-100,305),(-50,306),(0,310)],
    [(-475,288),(-460,292),(-445,298),(-430,302),(-400,301),(-375,298),(-350,292),(-325,288),(-300,285),(-275,283),(-250,283),(-225,284),(-200,287),(-180,293),(-160,297),(-125,300),(-100,302),(-50,304),(0,310)],
    [(-475,305),(-450,306),(-425,303),(-400,300),(-375,297),(-350,294),(-325,290),(-300,288),(-275,287),(-250,290),(-225,294),(-200,298),(-175,301),(-150,302),(-100,303),(-50,305),(0,310)],
]
lon342_O_m2 = [
    [(-475,300),(-450,295),(-425,285),(-400,280),(-375,278),(-350,276),(-325,275),(-300,274),(-275,272),(-250,270),(-225,270),(-200,272),(-175,280),(-150,286),(-125,289),(-100,290),(-75,292),(-50,296),(-25,303),(0,310)],
    [(-475,303),(-450,300),(-425,292),(-400,287),(-375,284),(-350,281),(-325,279),(-300,277),(-275,275),(-250,274),(-225,275),(-200,278),(-175,284),(-150,290),(-125,293),(-100,294),(-75,296),(-50,298),(-25,304),(0,310)],
    [(-475,306),(-450,304),(-425,300),(-400,298),(-375,295),(-350,291),(-325,288),(-300,285),(-275,281),(-250,280),(-225,280),(-200,284),(-175,291),(-150,296),(-125,298),(-100,299),(-75,300),(-50,301),(-25,305),(0,310)],
    [(-475,307),(-450,306),(-425,305),(-400,304),(-375,301),(-350,298),(-325,296),(-300,293),(-275,290),(-250,288),(-225,288),(-200,292),(-175,298),(-150,300),(-125,301),(-100,302),(-75,303),(-50,304),(-25,306),(0,310)],
    [(-475,309),(-450,308),(-425,308),(-400,307),(-375,305),(-350,303),(-325,301),(-300,298),(-275,295),(-250,293),(-225,295),(-200,299),(-175,302),(-150,303),(-125,304),(-100,304),(-75,305),(-50,306),(-25,307),(0,310)],
]

# ---------------- styling / layout ----------------
W, H = 1235, 1119
PINK = "#FF1493"
BROWN = "#4B0000"
FRAME = "#8a8a8a"
TXT = "#606060"
FONT = "DejaVu Sans"

COL_X = [(77.3, 605.7), (697.7, 1226.7)]
ROW_Y = [(10, 312), (388, 690), (766, 1068)]

panels = [
    (0, 0, "lat", lat339_I_m1, lat339_I_m2, lat339_O_m1, lat339_O_m2),
    (0, 1, "lon", lon339_I_m1, lon339_I_m2, lon339_O_m1, lon339_O_m2),
    (1, 0, "lat", lat340_I_m1, lat340_I_m2, lat340_O_m1, lat340_O_m2),
    (1, 1, "lon", lon340_I_m1, lon340_I_m2, lon340_O_m1, lon340_O_m2),
    (2, 0, "lat", lat342_I_m1, lat342_I_m2, lat342_O_m1, lat342_O_m2),
    (2, 1, "lon", lon342_I_m1, lon342_I_m2, lon342_O_m1, lon342_O_m2),
]

def px(x):
    return x / W

def py(y):
    return 1 - y / H

def shape_of(line):
    for (x0, y0), (x1, y1) in zip(line, line[1:]):
        if abs(y1 - y0) > 40 and abs(x1 - x0) < 10:
            return "linear"
    return "spline"

fig = go.Figure()
layout = dict(width=W, height=H, margin=dict(l=0, r=0, t=0, b=0),
              paper_bgcolor="white", plot_bgcolor="white", showlegend=False)
shapes, annots = [], []

for k, (r, c, kind, I1, I2, O1, O2) in enumerate(panels, start=1):
    xa = "x" if k == 1 else f"x{k}"
    ya = "y" if k == 1 else f"y{k}"
    groups = [(O2, BROWN, True), (O1, BROWN, False), (I2, PINK, True), (I1, PINK, False)]
    for lines, color, dotted in groups:
        for line in lines:
            fig.add_trace(go.Scatter(
                x=[p[0] for p in line], y=[p[1] for p in line], mode="lines",
                line=dict(color=color, width=2.4 if dotted else 2,
                          dash="3px,3px" if dotted else "solid",
                          shape=shape_of(line), smoothing=0.8),
                xaxis=xa, yaxis=ya, hoverinfo="skip"))
    x0p, x1p = COL_X[c]
    y0p, y1p = ROW_Y[r]
    xkey = "xaxis" if k == 1 else f"xaxis{k}"
    ykey = "yaxis" if k == 1 else f"yaxis{k}"
    common = dict(showline=True, linecolor=FRAME, linewidth=1, mirror="ticks",
                  ticks="inside", ticklen=9, tickcolor=FRAME, tickwidth=1,
                  showgrid=False, zeroline=False,
                  tickfont=dict(family=FONT, size=15, color=TXT))
    layout[xkey] = dict(common, domain=[px(x0p), px(x1p)], anchor=ya,
                        range=[-474, 0], tickvals=HOURS_TICKS, ticklabelstandoff=5,
                        minor=dict(dtick=10, tick0=0, ticks="inside", ticklen=4,
                                   tickcolor=FRAME, showgrid=False))
    if kind == "lat":
        layout[ykey] = dict(common, domain=[py(y1p), py(y0p)], anchor=xa,
                            range=[-60, 40], tickvals=LAT_TICKS,
                            minor=dict(dtick=5, tick0=0, ticks="inside", ticklen=4,
                                       tickcolor=FRAME, showgrid=False))
        ytitle = "latitude en °"
        ytx = x0p - 60
    else:
        layout[ykey] = dict(common, domain=[py(y1p), py(y0p)], anchor=xa,
                            range=[-5, 362], tickvals=LON_TICKS,
                            minor=dict(dtick=20, tick0=0, ticks="inside", ticklen=4,
                                       tickcolor=FRAME, showgrid=False))
        ytitle = "longitude en °"
        ytx = x0p - 56

    # axis titles
    annots.append(dict(text=X_TITLE, x=px((x0p + x1p) / 2), y=py(y1p + 40),
                       xref="paper", yref="paper", showarrow=False,
                       font=dict(family=FONT, size=15, color=TXT),
                       xanchor="center", yanchor="middle"))
    annots.append(dict(text=ytitle, x=px(ytx), y=py((y0p + y1p) / 2),
                       xref="paper", yref="paper", showarrow=False, textangle=-90,
                       font=dict(family=FONT, size=14, color=TXT),
                       xanchor="center", yanchor="middle"))
    # temperature label
    tx = x0p + (451 if c == 0 else 335)
    annots.append(dict(text=TEMPS[r], x=px(tx), y=py(y0p + 269),
                       xref="paper", yref="paper", showarrow=False,
                       font=dict(family="Liberation Serif", size=32, color="black"),
                       xanchor="center", yanchor="middle"))
    # legend
    rows = [22, 35, 52, 65] if c == 0 else [242, 255, 272, 285]
    lx0 = x0p + 406
    cols = [PINK, BROWN, "black", None]
    for i, (ry, txt) in enumerate(zip(rows, LEGEND_TEXT)):
        yy = y0p + ry
        if cols[i] is not None:
            shapes.append(dict(type="rect", xref="paper", yref="paper",
                               x0=px(lx0), x1=px(lx0 + 16), y0=py(yy + 2.5), y1=py(yy - 2.5),
                               fillcolor=cols[i], line=dict(width=0)))
        else:
            for sx in (lx0, lx0 + 8):
                shapes.append(dict(type="rect", xref="paper", yref="paper",
                                   x0=px(sx), x1=px(sx + 4.5), y0=py(yy + 2.5), y1=py(yy - 2.5),
                                   fillcolor="black", line=dict(width=0)))
        annots.append(dict(text=txt, x=px(lx0 + 24), y=py(yy), xref="paper", yref="paper",
                           showarrow=False, xanchor="left", yanchor="middle",
                           font=dict(family=FONT, size=11.5, color=TXT)))

layout["shapes"] = shapes
layout["annotations"] = annots
fig.update_layout(**layout)
fig.write_html("out.html", config={"displayModeBar": False},
               post_script="document.body.style.margin='0px';document.body.style.overflow='hidden';")
